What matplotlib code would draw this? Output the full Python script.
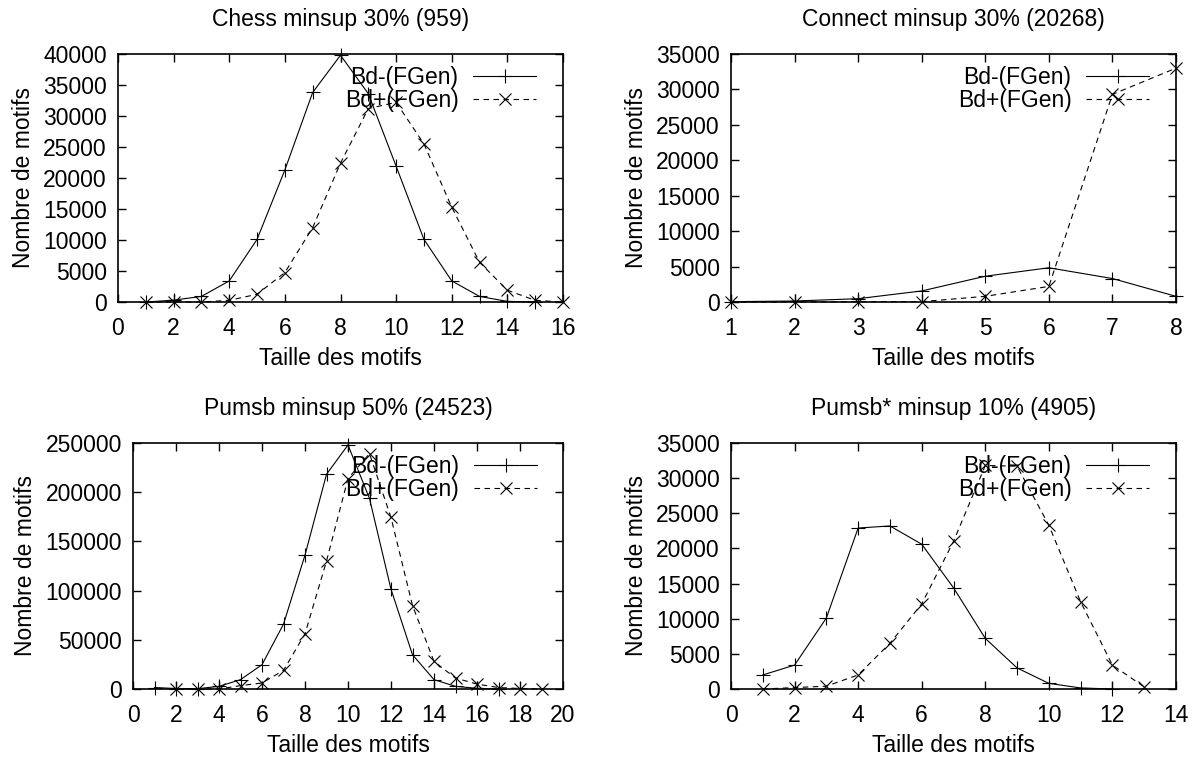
import matplotlib
matplotlib.use("Agg")
import matplotlib.pyplot as plt

# ---------------- data ----------------
chess_x_m = list(range(1, 16))
chess_bdm = [0, 300, 900, 3400, 10100, 21300, 33800, 39800, 33600, 21900, 10100, 3400, 900, 100, 0]
chess_x_p = list(range(1, 17))
chess_bdp = [0, 0, 0, 270, 1250, 4750, 12000, 22400, 31200, 32200, 25500, 15300, 6400, 1900, 270, 0]

connect_x = list(range(1, 9))
connect_bdm = [50, 140, 470, 1560, 3640, 4830, 3310, 800]
connect_bdp = [0, 0, 50, 50, 800, 2200, 29300, 33000]

pumsb_x_m = list(range(1, 18))
pumsb_bdm = [1500, 500, 300, 2700, 9500, 24700, 65900, 136100, 218200, 248000,
             193600, 101400, 34800, 9500, 2700, 700, 0]
pumsb_x_p = list(range(2, 20))
pumsb_bdp = [0, 0, 0, 3400, 6100, 18900, 56100, 130000, 213900, 239200,
             174300, 84800, 28000, 11100, 5000, 1500, 500, 0]

pstar_x_m = list(range(1, 13))
pstar_bdm = [2000, 3400, 10100, 22900, 23200, 20600, 14400, 7200, 3000, 800, 150, 0]
pstar_x_p = list(range(1, 14))
pstar_bdp = [0, 200, 400, 2000, 6500, 12100, 21000, 31800, 31700, 23300, 12400, 3400, 300]

titles = ["Chess minsup 30% (959)", "Connect minsup 30% (20268)",
          "Pumsb minsup 50% (24523)", "Pumsb* minsup 10% (4905)"]
label_m = "Bd-(FGen)"
label_p = "Bd+(FGen)"
xlabel = "Taille des motifs"
ylabel = "Nombre de motifs"

# ---------------- figure ----------------
plt.rcParams['font.family'] = ['Liberation Sans', 'DejaVu Sans']
FS = 16.5
W, H = 1199, 760
fig = plt.figure(figsize=(W / 100, H / 100), dpi=100)

def pix_axes(l, t, r, b):
    return fig.add_axes([l / W, 1 - b / H, (r - l) / W, (b - t) / H])

axes = [pix_axes(118, 54, 563, 302), pix_axes(731, 54, 1176, 302),
        pix_axes(133, 443, 563, 689), pix_axes(731, 443, 1176, 689)]

series = [
    (chess_x_m, chess_bdm, chess_x_p, chess_bdp, (0, 16), range(0, 17, 2), (0, 40000), range(0, 40001, 5000)),
    (connect_x, connect_bdm, connect_x, connect_bdp, (1, 8), range(1, 9), (0, 35000), range(0, 35001, 5000)),
    (pumsb_x_m, pumsb_bdm, pumsb_x_p, pumsb_bdp, (0, 20), range(0, 21, 2), (0, 250000), range(0, 250001, 50000)),
    (pstar_x_m, pstar_bdm, pstar_x_p, pstar_bdp, (0, 14), range(0, 15, 2), (0, 35000), range(0, 35001, 5000)),
]

for ax, title, (xm, ym, xp, yp, xl, xt, yl, yt) in zip(axes, titles, series):
    ax.plot(xm, ym, color='black', lw=0.8, marker='+', ms=9.5, mew=0.8,
            label=label_m, clip_on=False, zorder=3)
    ax.plot(xp, yp, color='black', lw=0.8, ls=(0, (5, 4)), marker='x', ms=8, mew=0.8,
            label=label_p, clip_on=False, zorder=3)
    ax.set_xlim(*xl)
    ax.set_ylim(*yl)
    ax.set_xticks(list(xt))
    ax.set_yticks(list(yt))
    ax.tick_params(direction='in', top=True, right=True, length=6, width=1,
                   labelsize=FS)
    ax.tick_params(axis='x', pad=11)
    ax.tick_params(axis='y', pad=8)
    for sp in ax.spines.values():
        sp.set_linewidth(1.2)
    ax.set_title(title, fontsize=FS, pad=20)
    ax.set_xlabel(xlabel, fontsize=FS, labelpad=5)
    ax.set_ylabel(ylabel, fontsize=FS, labelpad=6)
    ax.legend(loc='upper right', bbox_to_anchor=(0.94, 0.95), frameon=False,
              markerfirst=False, handlelength=2.75, handletextpad=0.65,
              labelspacing=0.0, borderpad=0, borderaxespad=0, numpoints=1,
              fontsize=FS)

fig.savefig("out.png", dpi=100)
